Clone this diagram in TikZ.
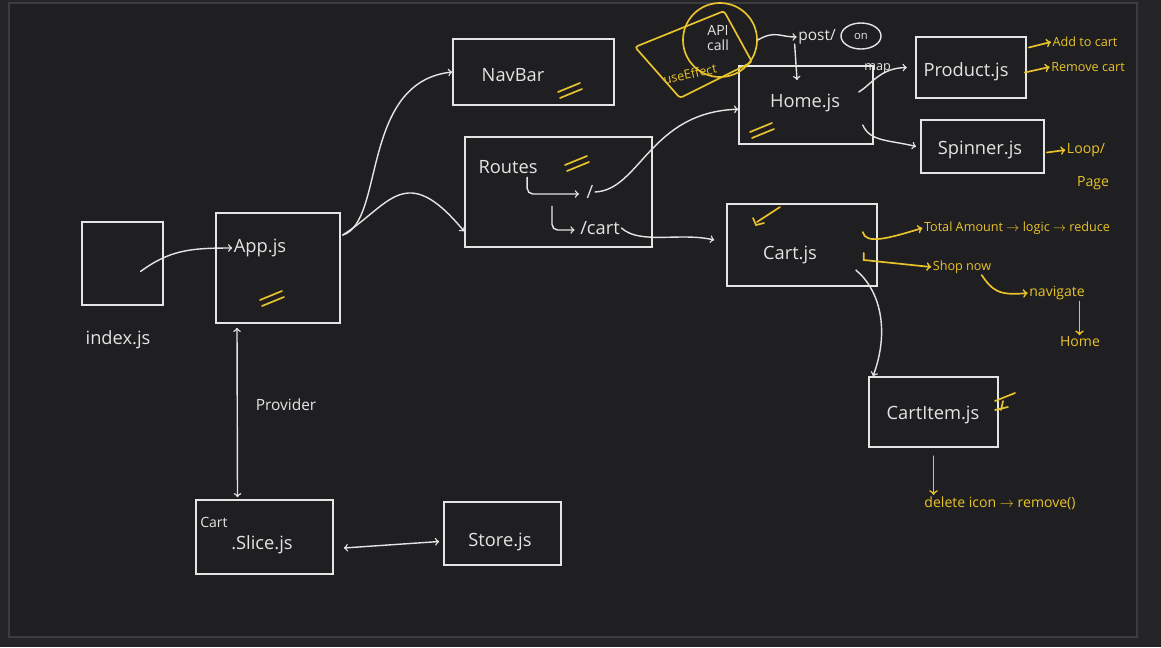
\documentclass[tikz,border=0pt]{standalone}
\usepackage{fontspec}
\setmainfont{Open Sans}
\usepackage{xcolor}
\usepackage{tikz}
\usetikzlibrary{positioning,arrows,shapes}

\definecolor{outer}{HTML}{252527}
\definecolor{board}{HTML}{1F1F21}
\definecolor{frame}{HTML}{3C3C3E}
\definecolor{chalk}{HTML}{E4E4E4}
\definecolor{marker}{HTML}{E9C32B}

\begin{document}
\begin{tikzpicture}[x=0.025cm,y=-0.025cm,
  box/.style={rectangle,draw=chalk,line width=1.1pt,inner sep=0pt},
  chalktxt/.style={text=chalk,font=\fontsize{13}{15}\selectfont,inner sep=1pt},
  yeltxt/.style={text=marker,font=\fontsize{9}{11}\selectfont,inner sep=1pt},
  wire/.style={draw=chalk,line width=1pt,line cap=round},
  hilite/.style={draw=marker,line width=1.2pt,line cap=round}]

  % page and board
  \fill[outer] (0,0) rectangle (1161,647);
  \filldraw[fill=board,draw=frame,line width=1pt] (9,3) rectangle (1137,637);

  % boxes
  \node (index) [box,minimum width=2.025cm,minimum height=2.075cm] at (122.5,263.5) {};
  \node (app) [box,minimum width=3.1cm,minimum height=2.75cm] at (278,268) {};
  \node (navbar) [box,minimum width=4.025cm,minimum height=1.65cm] at (533.5,72) {};
  \node (routes) [box,minimum width=4.675cm,minimum height=2.75cm] at (558.5,192) {};
  \node (home) [box,minimum width=3.35cm,minimum height=1.95cm] at (806,105) {};
  \node (product) [box,minimum width=2.75cm,minimum height=1.525cm] at (971,67.5) {};
  \node (spinner) [box,minimum width=3.075cm,minimum height=1.325cm] at (982.5,146.5) {};
  \node (cart) [box,minimum width=3.75cm,minimum height=2.05cm] at (802,245) {};
  \node (cartitem) [box,minimum width=3.225cm,minimum height=1.75cm] at (933.5,412) {};
  \node (slice) [box,minimum width=3.425cm,minimum height=1.85cm] at (264.5,537) {};
  \node (store) [box,minimum width=2.925cm,minimum height=1.575cm] at (502.5,533.5) {};

  % box labels
  \node (idxlbl) [chalktxt] at (118,340) {index.js};
  \node (applbl) [chalktxt] at (260,248) {App.js};
  \node (navlbl) [chalktxt] at (513,75) {NavBar};
  \node (routeslbl) [chalktxt] at (508,167) {Routes};
  \node (root) [chalktxt] at (590,192) {/};
  \node (cartpath) [chalktxt] at (600,228) {/cart};
  \node (homelbl) [chalktxt] at (805,103) {Home.js};
  \node (productlbl) [chalktxt] at (966,72) {Product.js};
  \node (spinnerlbl) [chalktxt] at (980,150) {Spinner.js};
  \node (cartlbl) [chalktxt] at (790,255) {Cart.js};
  \node (itemlbl) [chalktxt] at (933,415) {CartItem.js};
  \node (slicetop) [chalktxt,font=\fontsize{10}{12}\selectfont] at (214,522) {Cart};
  \node (slicelbl) [chalktxt] at (262,545) {.Slice.js};
  \node (storelbl) [chalktxt] at (500,542) {Store.js};
  \node (provider) [chalktxt,font=\fontsize{11}{13}\selectfont] at (286,405) {Provider};

  % api call
  \draw[hilite,rounded corners=2pt] (635,47) -- (724,11) -- (752,62) -- (680,98) -- cycle;
  \node (api) [circle,draw=marker,line width=1.2pt,minimum size=1.85cm] at (720,40) {};
  \node (apilbl) [chalktxt,align=center,font=\fontsize{10}{11}\selectfont] at (718,38) {API\\call};
  \node (effect) [yeltxt,rotate=12] at (690,74) {useEffect};
  \node (posts) [chalktxt,font=\fontsize{11}{13}\selectfont] at (817,37) {post/};
  \node (postsub) [ellipse,draw=chalk,line width=1pt,inner sep=1pt,minimum width=1cm,
    minimum height=0.65cm,text=chalk,font=\fontsize{8}{9}\selectfont] at (861,36) {on};
  \coordinate (homein) at (797,80);

  % white connectors
  \draw[wire,->] ([shift={(18,8)}]index.center) .. controls (170,250) and (190,248) .. (applbl.west);
  \draw[wire,->] ([shift={(2,-33)}]app.east) .. controls (385,222) and (360,82) .. (navbar.west);
  \draw[wire,->] ([shift={(2,-33)}]app.east) .. controls (390,205) and (405,160) .. ([yshift=-28]routes.west);
  \draw[wire,->] (root.east) .. controls (640,190) and (650,112) .. ([yshift=-3]home.west);
  \draw[wire,->] (cartpath.east) .. controls (640,245) and (680,232) .. ([shift={(-12,-5)}]cart.west);
  \draw[wire,->,rounded corners=4pt] ([shift={(-12,2)}]routeslbl.south east) |- ([shift={(-6,2)}]root.west);
  \draw[wire,->,rounded corners=4pt] ([shift={(-38,6)}]root.south) |- ([shift={(-4,2)}]cartpath.west);
  \draw[wire,->] (api.east) .. controls (775,30) and (780,37) .. (posts.west);
  \draw[wire,->] ([shift={(-2,-2)}]posts.south west) -- (homein);
  \draw[wire,->] ([shift={(-15,-13)}]home.east) .. controls (872,84) and (880,68) .. node[chalktxt,font=\fontsize{9}{10}\selectfont,above=1pt] (maplbl) {map} ([xshift=-6]product.west);
  \draw[wire,->] ([shift={(-11,20)}]home.east) .. controls (870,142) and (890,140) .. ([xshift=-3]spinner.west);
  \draw[wire,->] ([shift={(-22,25)}]cart.east) .. controls (880,290) and (890,330) .. ([xshift=-43]cartitem.north);
  \draw[wire,<->] ([shift={(-41,4)}]app.south) -- ([shift={(-27,-2)}]slice.north);
  \draw[wire,<->] ([shift={(10,11)}]slice.east) -- ([shift={(-4,8)}]store.west);

  % yellow notes
  \node (addcart) [yeltxt] at (1085,42) {Add to cart};
  \node (remcart) [yeltxt] at (1088,67) {Remove cart};
  \node (loop) [yeltxt,font=\fontsize{10}{12}\selectfont] at (1086,150) {Loop/};
  \node (page) [yeltxt,font=\fontsize{10}{12}\selectfont] at (1093,183) {Page};
  \node (total) [yeltxt] at (1017,228) {Total Amount $\to$ logic $\to$ reduce};
  \node (shop) [yeltxt] at (962,267) {Shop now};
  \node (nav) [yeltxt,font=\fontsize{10}{12}\selectfont] at (1057,293) {navigate};
  \node (home2) [yeltxt,font=\fontsize{10}{12}\selectfont] at (1080,342) {Home};
  \node (del) [yeltxt,font=\fontsize{10}{12}\selectfont] at (1000,503) {delete icon $\to$ remove()};

  \draw[hilite,->] ([shift={(2,-20)}]product.east) -- (addcart.west);
  \draw[hilite,->] ([shift={(-2,5)}]product.east) -- (remcart.west);
  \draw[hilite,->] ([shift={(2,6)}]spinner.east) -- (loop.west);
  \draw[hilite,->] ([shift={(-15,-13)}]cart.east) .. controls (865,245) and (890,238) .. (total.west);
  \draw[hilite,->] ([shift={(-14,8)}]cart.east) -- ([shift={(-14,15)}]cart.east) -- (shop.west);
  \draw[hilite,->] ([xshift=-8]shop.south east) .. controls (992,290) and (998,296) .. (nav.west);
  \draw[hilite,->] ([xshift=16]nav.south) -- ([xshift=16]nav.south |- home2.north);
  \draw[hilite,->] ([yshift=-6]cartitem.south) -- (cartitem.south |- del.north);

  % check marks
  \foreach \mx/\my in {272/298, 570/90, 577/163, 762/130} {
    \draw[hilite] (\mx-12,\my+2) -- (\mx+10,\my-7);
    \draw[hilite] (\mx-10,\my+8) -- (\mx+12,\my-1);
  }
  \draw[hilite] (757,222) -- (780,207);
  \draw[hilite] (753,218) -- (756,225) -- (764,223);
  \draw[hilite] (995,401) -- (1015,393);
  \draw[hilite] (995,410) -- (1008,407);
  \draw[hilite] (1003,401) -- (1001,410);
\end{tikzpicture}
\end{document}
